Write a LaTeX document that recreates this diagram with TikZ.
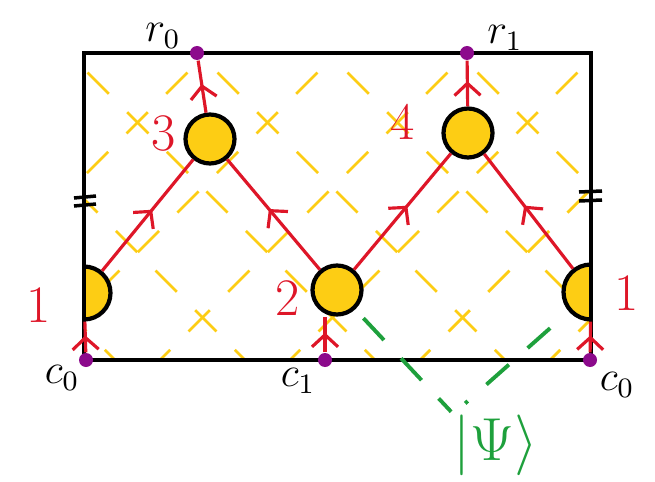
\documentclass[tikz,border=0pt]{standalone}
\usetikzlibrary{arrows.meta,decorations.markings}

\definecolor{qred}{RGB}{222,22,40}
\definecolor{qyellow}{RGB}{253,205,20}
\definecolor{qpurple}{RGB}{140,10,140}
\definecolor{qgreen}{RGB}{30,160,60}

\tikzset{
    tensor/.style={circle, draw=black, line width=1.2pt, fill=qyellow,
        minimum size=4.9mm, inner sep=0pt},
    site/.style={circle, fill=qpurple, minimum size=1.4mm, inner sep=0pt},
    flow/.style={qred, line width=0.9pt, postaction={decorate},
        decoration={markings, mark=at position 0.55 with
            {\arrow{Straight Barb[length=1.2mm, width=2.6mm]}}}},
    lbl/.style={text=qred, font=\fontsize{15}{18}\selectfont},
    idx/.style={font=\fontsize{12}{14}\selectfont},
    hatch/.style={qyellow, line width=0.8pt, dash pattern=on 3mm off 2.6mm},
    ket/.style={qgreen, line width=1.1pt, dash pattern=on 3mm off 2.5mm},
}

\begin{document}
\begin{tikzpicture}[x=0.1mm, y=-0.1mm]

    \useasboundingbox (0,0) rectangle (655,482);

    \pgfmathsetmacro{\xl}{84}
    \pgfmathsetmacro{\xr}{591}
    \pgfmathsetmacro{\yt}{53}
    \pgfmathsetmacro{\yb}{360}

    % 黄色の斜線
    \begin{scope}
        \clip (\xl,\yt) rectangle (\xr,\yb);
        \foreach \k in {-245,-115,...,535} {
            \draw[hatch] (\k+\yt-20,\yt-20) -- ++(360,360);
        }
        \foreach \k in {130,260,...,910} {
            \draw[hatch] (\k-\yt+20,\yt-20) -- ++(-360,360);
        }
    \end{scope}

    % 端のテンソル 1 (半分)
    \begin{scope}
        \clip (\xl,\yt) rectangle (\xr,\yb);
        \node[tensor, minimum size=5.3mm] (q1l) at (\xl,293) {};
        \node[tensor, minimum size=5.5mm] (q1r) at (\xr,292) {};
    \end{scope}

    % 枠
    \draw[line width=1.2pt] (\xl,\yt) rectangle (\xr,\yb);

    % 同一視の印
    \draw[line width=1pt] (74,198) -- (96,196) (74,206) -- (96,204);
    \draw[line width=1pt] (579,192) -- (602,191) (579,201) -- (602,200);

    % テンソル
    \node[tensor] (q3) at (210,139) {};
    \node[tensor] (q4) at (468,133) {};
    \node[tensor] (q2) at (337,290) {};

    % 点
    \node[site] (r0) at (197,\yt) {};
    \node[site] (r1) at (467,\yt) {};
    \node[site] (c0l) at (86,\yb) {};
    \node[site] (c1) at (325,\yb) {};
    \node[site] (c0r) at (590,\yb) {};

    % 矢印
    \draw[flow] (c0l) -- (q1l);
    \draw[flow] (q1l) -- (q3);
    \draw[flow] (q2) -- (q3);
    \draw[flow] (q3) -- (r0);
    \draw[flow] (c1) -- (c1 |- q2.south);
    \draw[flow] (q2) -- (q4);
    \draw[flow] (q4) -- (r1);
    \draw[flow] (q1r) -- (q4);
    \draw[flow] (c0r) -- (q1r);

    % ラベル
    \node[lbl] (n3) at (164,133) {3};
    \node[lbl] (n4) at (403,122) {4};
    \node[lbl] (n2) at (288,298) {2};
    \node[lbl] (n1l) at (39,305) {1};
    \node[lbl] (n1r) at (627,293) {1};

    \node[idx] (t0) at (163,36) {$r_0$};
    \node[idx] (t1) at (505,38) {$r_1$};
    \node[idx] (b0l) at (62,378) {$c_0$};
    \node[idx] (b1) at (298,381) {$c_1$};
    \node[idx] (b0r) at (617,385) {$c_0$};

    % 状態
    \node[text=qgreen, inner sep=0pt, font=\fontsize{16}{18}\selectfont]
        (psi) at (496,445) {$|\Psi\rangle$};
    \draw[ket, shorten <=1.2mm, shorten >=0.3mm] (q2) -- (psi.north west);
    \draw[ket, shorten <=2.5mm, shorten >=1.6mm] (q1r) -- (psi.north west);

\end{tikzpicture}
\end{document}
